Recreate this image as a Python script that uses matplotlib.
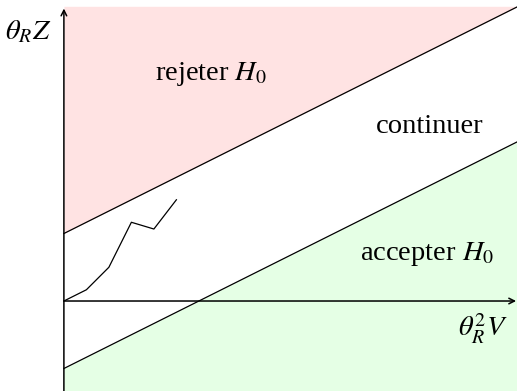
import numpy as np
import matplotlib.pyplot as plt

plt.rcParams['mathtext.fontset'] = 'stix'
plt.rcParams['font.family'] = ['Liberation Serif', 'DejaVu Serif']

# boundaries of the sequential test: y = slope * x +/- offset
slope = 0.5
offset = 1.5

# sample path of the test statistic
path_x = [0, 0.5, 1.0, 1.5, 2.0, 2.5]
path_y = [0, 0.25, 0.75, 1.75, 1.6, 2.25]

region_labels = ['rejeter $H_0$', 'continuer', 'accepter $H_0$']

xmin, xmax = -1.42, 10.07
ymin, ymax = -2.0, 6.69

fig = plt.figure(figsize=(5.17, 3.91), dpi=100)
ax = fig.add_axes([0, 0, 1, 1])
ax.set_xlim(xmin, xmax)
ax.set_ylim(ymin, ymax)
ax.axis('off')

xs = np.array([0, xmax])
top = 6.55
ax.fill_between(xs, slope * xs + offset, top, color='#ffe3e3', lw=0)
ax.fill_between(xs, ymin, slope * xs - offset, color='#e5ffe5', lw=0)
ax.plot(xs, slope * xs + offset, color='black', lw=0.9)
ax.plot(xs, slope * xs - offset, color='black', lw=0.9)

ax.plot(path_x, path_y, color='black', lw=0.9)

# axes with arrow heads
arrow = dict(arrowstyle='->', lw=1.1, color='black', shrinkA=0, shrinkB=0,
             mutation_scale=10)
ax.annotate('', xy=(xmax - 0.02, 0), xytext=(0, 0), arrowprops=arrow)
ax.annotate('', xy=(0, 6.5), xytext=(0, ymin), arrowprops=arrow)

fs = 20.5
ax.text(-0.8, 5.97, r'$\theta_R Z$', fontsize=fs, ha='center', va='center')
ax.text(9.31, -0.63, r'$\theta_R^2 V$', fontsize=fs, ha='center', va='center')
ax.text(3.28, 5.04, region_labels[0], fontsize=fs, ha='center', va='center')
ax.text(8.13, 3.88, region_labels[1], fontsize=fs, ha='center', va='center')
ax.text(8.08, 1.04, region_labels[2], fontsize=fs, ha='center', va='center')

fig.savefig('out.png', dpi=100)
